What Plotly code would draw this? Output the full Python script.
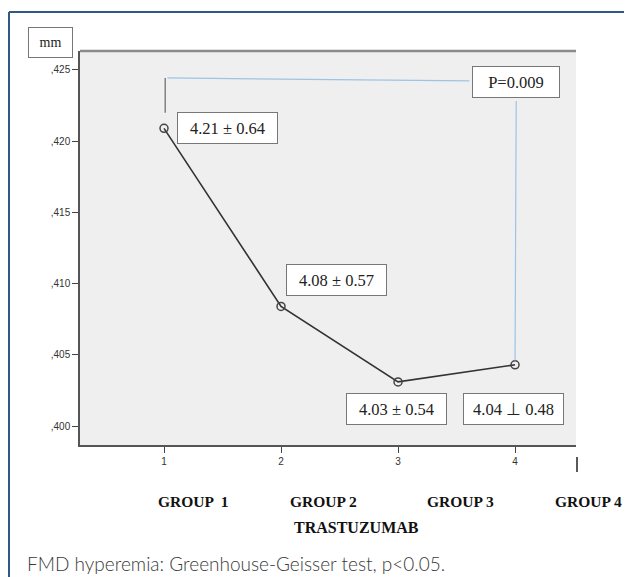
import plotly.graph_objects as go

# ---- data ----
groups = [1, 2, 3, 4]
means = [0.4209, 0.4084, 0.4031, 0.4043]
labels = ["4.21 ± 0.64", "4.08 ± 0.57", "4.03 ± 0.54", "4.04 ⊥ 0.48"]
group_names = ["GROUP  1", "GROUP 2", "GROUP 3", "GROUP 4"]
ytick_vals = [0.400, 0.405, 0.410, 0.415, 0.420, 0.425]
ytick_text = [",400", ",405", ",410", ",415", ",420", ",425"]
p_text = "P=0.009"

OFF = 8  # default page margin of the html body
W, H = 632 - OFF, 577 - OFF
L, R, T, B = 80 - OFF, 576 - OFF, 51 - OFF, 445 - OFF


def px(x):
    return (x - OFF - L) / (R - L)


def py(y):
    return (B - (y - OFF)) / (B - T)


fig = go.Figure()
fig.add_trace(go.Scatter(
    x=groups, y=means, mode="lines+markers",
    line=dict(color="#333333", width=1.6),
    marker=dict(symbol="circle-open", size=8, color="#444444", line=dict(width=1.5)),
    hoverinfo="skip", showlegend=False,
))

serif = "Liberation Serif, Times New Roman, serif"
box_font = dict(family=serif, size=16.5, color="#222222")

# value labels (data coordinates)
label_pos = [(1.543, means[0]), (2.47, 0.41022), (2.99, 0.40123), (3.99, 0.40123)]
annotations = []
for (x, y), t in zip(label_pos, labels):
    annotations.append(dict(x=x, y=y, xref="x", yref="y", text=t, showarrow=False,
                            xanchor="center", yanchor="middle",
                            font=box_font, bgcolor="white", bordercolor="#777777",
                            borderwidth=1, width=97, height=28, align="center"))
# P box
annotations.append(dict(x=4.005, y=0.42412, xref="x", yref="y", text=p_text, showarrow=False,
                        xanchor="center", yanchor="middle",
                        font=box_font, bgcolor="white", bordercolor="#777777",
                        borderwidth=1, width=84, height=28, align="center"))
# mm box
annotations.append(dict(x=px(50), y=py(43), xref="paper", yref="paper", text="mm", showarrow=False,
                        xanchor="center", yanchor="middle",
                        font=dict(family=serif, size=14, color="#222222"), bgcolor="white",
                        bordercolor="#777777", borderwidth=1, width=41, height=27))
# group labels
gx = [193, 323, 460, 588]
for x, t in zip(gx, group_names):
    annotations.append(dict(x=px(x), y=py(501), xref="paper", yref="paper", text="<b>" + t + "</b>",
                            xanchor="center", yanchor="middle",
                            showarrow=False, font=dict(family=serif, size=15.5, color="#111111")))
annotations.append(dict(x=px(356), y=py(527), xref="paper", yref="paper", text="<b>TRASTUZUMAB</b>",
                        xanchor="center", yanchor="middle",
                        showarrow=False, font=dict(family=serif, size=16, color="#111111")))
# caption
annotations.append(dict(x=px(25), y=py(563), xref="paper", yref="paper", xanchor="left",
                        yanchor="middle",
                        text="FMD hyperemia: Greenhouse-Geisser test, p<0.05.", showarrow=False,
                        font=dict(family="Lato, sans-serif", size=19, color="#3a3a3a", weight=300)))

bracket_y = 0.42444
shapes = [
    # outer frame
    dict(type="line", xref="paper", yref="paper", x0=px(9), x1=px(640), y0=py(12), y1=py(12),
         line=dict(color="#2E5A88", width=2)),
    dict(type="line", xref="paper", yref="paper", x0=px(9), x1=px(9), y0=py(12), y1=py(590),
         line=dict(color="#2E5A88", width=2)),
    # plot top border
    dict(type="line", xref="paper", yref="paper", x0=0, x1=1, y0=1, y1=1,
         line=dict(color="#8a8a8a", width=2.5)),
    # bracket
    dict(type="line", xref="x", yref="y", x0=1.01, x1=1.01, y0=means[0] + 0.0011, y1=bracket_y,
         line=dict(color="#666666", width=1.2)),
    dict(type="line", xref="x", yref="y", x0=1.03, x1=3.61, y0=bracket_y, y1=0.42423,
         line=dict(color="#9DC3E6", width=1.2)),
    dict(type="line", xref="x", yref="y", x0=4.01, x1=4.0, y0=0.42282, y1=means[3] + 0.0003,
         line=dict(color="#9DC3E6", width=1.2)),
    # stray tick mark
    dict(type="line", xref="paper", yref="paper", x0=px(577), x1=px(577), y0=py(457), y1=py(472),
         line=dict(color="#222222", width=1.5)),
]

fig.update_layout(
    width=W, height=H,
    margin=dict(l=L, r=W - R, t=T, b=H - B),
    paper_bgcolor="white", plot_bgcolor="#EFEFEF",
    annotations=annotations, shapes=shapes,
    xaxis=dict(range=[0.282, 4.521], tickvals=groups, ticktext=[str(g) for g in groups],
               showgrid=False, zeroline=False, showline=True, linecolor="#555555", linewidth=1.5,
               ticks="outside", ticklen=6, tickcolor="#444444", tickwidth=1.2,
               tickfont=dict(family="Liberation Sans, Arial, sans-serif", size=10, color="#333333")),
    yaxis=dict(range=[0.39867, 0.42633], tickvals=ytick_vals, ticktext=ytick_text,
               showgrid=False, zeroline=False, showline=True, linecolor="#555555", linewidth=1.5,
               ticks="outside", ticklen=6, tickcolor="#444444", tickwidth=1.2,
               tickfont=dict(family="Liberation Sans, Arial, sans-serif", size=10, color="#333333")),
)

fig.write_html("out.html")
